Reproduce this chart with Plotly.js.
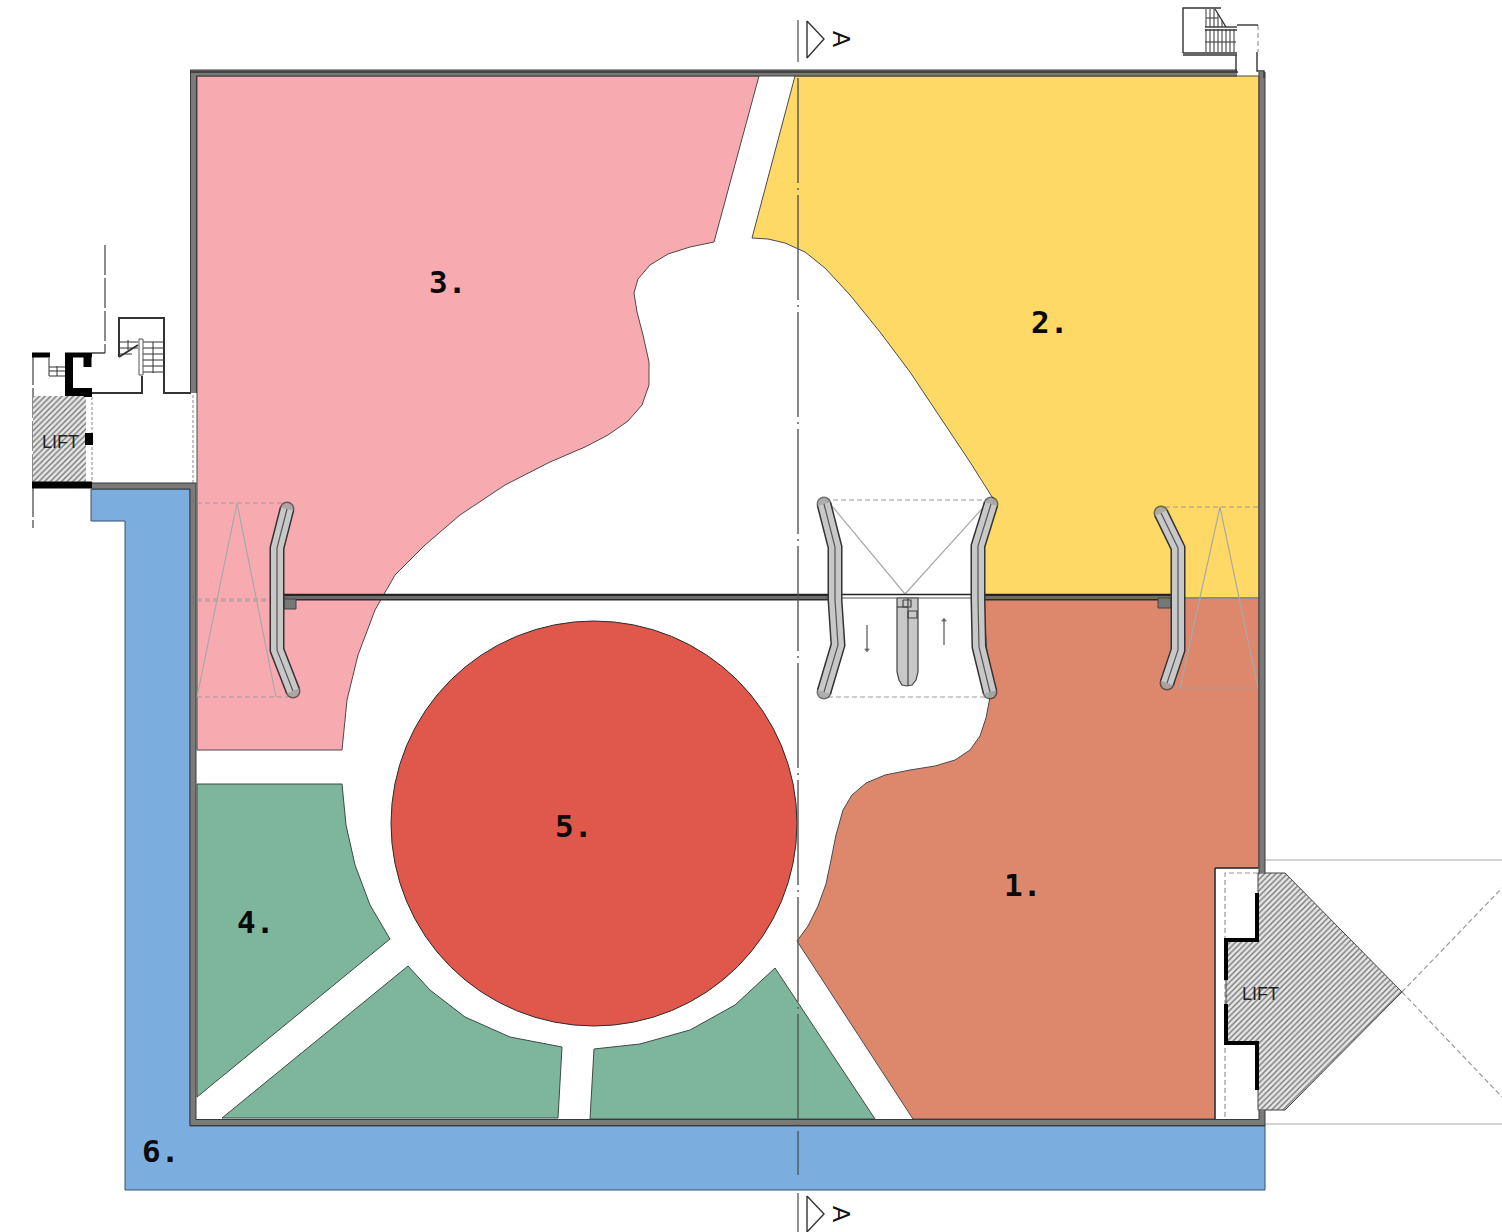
<!DOCTYPE html>
<html><head><meta charset="utf-8">
<script src="https://cdn.plot.ly/plotly-3.0.1.min.js"></script>
<style>html,body{margin:0;padding:0;background:#fff}#plan{width:1502px;height:1232px}</style>
</head><body><div id="plan"></div>
<script>
// Zones read from the plan (x, y in picture pixels)
const zone1 = [[984,598],[1259,598],[1259,868],[1215,868],[1215,1119],[913,1119],[797,941],[808,926],[818,906],[826,884],[831,860],[836,835],[843,810],[852,795],[866,783],[885,775],[910,770],[935,766],[955,760],[970,750],[980,736],[986,718],[990,697],[987,650],[984,610]];
const zone2 = [[795,76],[1259,76],[1259,598],[984,598],[984,547],[994,500],[970,462],[940,417],[910,372],[880,332],[850,295],[825,268],[805,252],[785,243],[768,239],[752,238]];
const zone3 = [[197,76],[759,76],[714,242],[690,247],[668,254],[650,265],[638,279],[634,293],[637,312],[643,335],[649,362],[649,385],[642,405],[628,421],[608,435],[585,447],[550,462],[505,485],[460,515],[425,545],[395,575],[375,610],[358,655],[347,700],[342,750],[197,750]];
const zone4a = [[197,784],[342,784],[346,825],[355,865],[370,905],[390,939],[197,1097]];
const zone4b = [[222,1118],[408,966],[430,990],[465,1017],[510,1037],[562,1047],[558,1118]];
const zone4c = [[594,1049],[640,1044],[690,1030],[735,1005],[775,968],[875,1119],[590,1119]];
const zone6 = [[91,489],[190,489],[190,1126],[1265,1126],[1265,1190],[125,1190],[125,521],[91,521]];
const zone5Circle = {x0:391, y0:621, x1:797, y1:1026};
const zoneLabels = [["1.",1022,885],["2.",1049,322],["3.",447,282],["4.",255,922],["5.",573,826],["6.",160,1151]];
const liftLabels = [["LIFT",60,442],["LIFT",1260,994]];
const sectionLabels = [["A",842,39],["A",842,1214]];

// Building walls
const wallMain = [[1237,73],[193.5,73],[193.5,393]];
const wallRight = [[1262,72],[1262,873]];
const wallRightLow = [[1262,1110],[1262,1122.5],[193,1122.5],[193,486],[92,486]];
const liftHatchLeft = [[33,396],[86,396],[86,483],[33,483]];
const liftHatchRight = [[1258,873],[1285,873],[1402,992],[1285,1110],[1258,1110],[1258,1043],[1226,1043],[1226,941],[1258,941]];
const liftCorridor = [[1259,873],[1265,873],[1265,1110],[1259,1110]];

// Ramps: centre lines
const rampA = [[287,509],[277,548],[277,650],[293,691]];
const rampB = [[824,504],[835,547],[835,600],[838,645],[824,692]];
const rampC = [[991,504],[978,546],[978,600],[979,647],[990,692]];
const rampD = [[1161,513],[1178,548],[1178,650],[1167,683]];
const divider = [[897,598],[918,598],[918,672],[916,680],[912,685],[907,686],[902,685],[899,680],[897,672]];

// Thin drawn lines
const stairSteps = [
 [[143,342],[163,342]],[[143,348],[163,348]],[[143,354],[163,354]],[[143,360],[163,360]],[[143,366],[163,366]],[[143,372],[163,372]],
 [[119,342],[138,342]],[[119,348],[138,348]],[[119,354],[132,354]],[[128,340],[128,350]],[[153,342],[153,373]],
 [[49,367],[65,367]],[[49,371],[65,371]],[[49,376],[65,376]],[[49,358],[49,376]],[[57,366],[57,376]],
 [[1206,9],[1206,27]],[[1210,9],[1210,27]],[[1214,9],[1214,27]],[[1218,14],[1218,27]],[[1222,20],[1222,27]],[[1206,18],[1218,18]],
 [[1206,29],[1206,52]],[[1210,29],[1210,52]],[[1214,29],[1214,52]],[[1218,29],[1218,52]],[[1222,29],[1222,52]],[[1226,29],[1226,52]],[[1230,29],[1230,52]],[[1234,29],[1234,52]],[[1205,42],[1236,42]]
];
const darkLines = [
 [[119,357],[119,318],[164,318],[164,393],[191,393]],[[119,357],[138,345]],[[92,393],[142,393],[142,376]],
 [[1183,53],[1183,8],[1221,8]],[[1215,9],[1226,27]],[[1183,53],[1237,53]],[[1183,55],[1237,55]],[[1205,27],[1237,27]],[[1205,30],[1237,30]],
 [[1237,25],[1258,25]],[[1257,52],[1257,71],[1264,71],[1264,78]],[[1236,55],[1236,72]],[[105,353],[92,353]],
 [[1215,868],[1215,1119]],[[1215,868],[1258,868]],[[191,72],[1238,72]]
];
const blackBars = [
 [[32,485],[92,485]],[[32,355],[50,355]],[[65,355],[92,355]],[[69,355],[69,392],[92,392]],
 [[87.5,355],[87.5,367]],[[88,390],[88,397]],[[89,433],[89,445]],
 [[1257,893],[1257,940],[1226,940],[1226,980]],[[1226,1004],[1226,1043],[1257,1043],[1257,1090]]
];
const dashLines = [
 [[33,355],[33,528]],[[105,245],[105,353]],
 [[193,395],[193,483]],[[92,397],[92,483]]
];
const viewDashes = [
 [[197,503],[285,503]],[[197,599],[272,599]],[[197,601],[272,601]],[[197,697],[288,697]],
 [[825,500],[990,500]],[[828,697],[990,697]],
 [[1165,507],[1258,507]],[[1170,688],[1258,688]],
 [[1258,873],[1225,873],[1225,1119]],[[1402,992],[1502,888]],[[1402,992],[1502,1097]],[[1258,25],[1258,52]]
];
const viewLines = [
 [[197,697],[237,503],[276,697]],[[827,500],[905,594],[990,500]],[[1180,688],[1220,507],[1258,688]],[[1184,598],[1259,598]],
 [[1265,860],[1502,860]],[[1265,1124],[1502,1124]]
];
const bridgeBandLeft = [[278,597.5],[830,597.5]];
const bridgeBandRight = [[985,597.5],[1172,597.5]];
const bridgeTop = [[278,594.5],[1172,594.5]];
const bridgeLow = [[830,598],[985,598]];
const bridgeBlocks = [[[284,599],[296,599],[296,609],[284,609]],[[1158,598],[1171,598],[1171,608],[1158,608]]];
const dividerDetails = [[[908,598],[908,686]],[[903,600],[911,600],[911,607],[903,607],[903,600]],[[908,611],[917,611],[917,618],[908,618],[908,611]],[[897,607],[908,607]]];
const flowArrows = [[[867,625],[867,650]],[[944,645],[944,620]]];
const axisLine = [[798,78],[798,1175]];
const sectionBars = [[[798,20],[798,62]],[[798,1193],[798,1232]]];
const sectionMarks = [[[807,21],[824,39],[807,58],[807,21]],[[807,1196],[824,1214],[807,1232],[807,1196]]];

const xs = p => p.map(d => d[0]), ys = p => p.map(d => d[1]);
const traces = [];
function poly(p, fill, edge, w, extra) {
  traces.push(Object.assign({type:'scatter', mode:'lines', x:xs(p).concat(p[0][0]), y:ys(p).concat(p[0][1]),
    fill:'toself', fillcolor:fill, line:{color:edge, width:w}, hoverinfo:'skip'}, extra||{}));
}
function line(p, color, w, dash) {
  traces.push({type:'scatter', mode:'lines', x:xs(p), y:ys(p), line:{color:color, width:w, dash:dash||'solid'}, hoverinfo:'skip'});
}
const hatch = {fillpattern:{shape:'/', size:4, solidity:0.35, fgcolor:'#777777', bgcolor:'#e6e6e6'}};

poly(zone3,'#f7abb0','#4a4a4a',1);
poly(zone2,'#fed966','#4a4a4a',1);
poly(zone1,'#dd886d','#4a4a4a',1);
[zone4a,zone4b,zone4c].forEach(z=>poly(z,'#7eb59d','#3c4a44',1));
poly(zone6,'#7baedf','#34506e',1);

viewDashes.forEach(p=>line(p,'#999999',1.2,'5px,3px'));
viewLines.forEach(p=>line(p,'#a8a8a8',1.2));
dashLines.forEach((p,i)=>line(p,i<2?'#666666':'#c4c4c4',i<2?1.5:2,i<2?'30px,3px':'3px,2px'));

poly(liftHatchLeft,'#dddddd','rgba(0,0,0,0)',0,hatch);
poly(liftCorridor,'#cccccc','rgba(0,0,0,0)',0,hatch);
poly(liftHatchRight,'#dddddd','#444444',1,hatch);

[wallMain,wallRight,wallRightLow].forEach(p=>{line(p,'#3a3a3a',7); line(p,'#7a7a7a',5);});
darkLines.forEach((p,i)=>line(p,'#333333',i<3?2:1.4));
stairSteps.forEach(p=>line(p,'#333333',1));
poly([[139,339],[143,339],[143,375],[139,375]],'#ffffff','#555555',1);
blackBars.forEach((p,i)=>line(p,'#000000',i===0?7:(i<3?5:(i<7?8:4))));

line(bridgeBandLeft,'#2b2b2b',6); line(bridgeBandLeft,'#6d6d6d',3);
line(bridgeBandRight,'#2b2b2b',6); line(bridgeBandRight,'#6d6d6d',3);
line(bridgeTop,'#222222',1.6); line(bridgeLow,'#555555',1);
bridgeBlocks.forEach(b=>poly(b,'#777777','#444444',1));

function ramp(p){
  const ends = p.map((d,i)=> (i===0||i===p.length-1));
  [[15,'#333333'],[12,'#c8c8c8']].forEach(s=>{
    traces.push({type:'scatter',mode:'lines+markers',x:xs(p),y:ys(p),line:{color:s[1],width:s[0]},
      marker:{color:s[1],size:ends.map(e=>e?s[0]:0),line:{width:0}},hoverinfo:'skip'});
  });
  line(p,'#555555',1.2);
}
[rampA,rampB,rampC,rampD].forEach(ramp);
poly(divider,'#c8c8c8','#444444',1.2);
dividerDetails.forEach(p=>line(p,'#444444',1.2));
flowArrows.forEach(p=>{
  traces.push({type:'scatter',mode:'lines+markers',x:xs(p),y:ys(p),line:{color:'#555555',width:1.2},
    marker:{symbol:['circle',p[1][1]>p[0][1]?'triangle-down':'triangle-up'],size:[0,4],color:'#333333'},hoverinfo:'skip'});
});

line(axisLine,'#555555',1.4,'105px,5px,2px,5px');
sectionBars.forEach(p=>line(p,'#777777',1.6));
sectionMarks.forEach(p=>line(p,'#333333',1.4));

const ann = [];
const addText = (t,x,y,font,angle)=>ann.push({text:t,x:x,y:y,xref:'x',yref:'y',showarrow:false,xanchor:'center',yanchor:'middle',font:font,textangle:angle||0});
zoneLabels.forEach(l=>addText(l[0],l[1],l[2],{family:'DejaVu Sans Mono',size:31,color:'#0a0a0a',weight:700}));
liftLabels.forEach(l=>addText(l[0],l[1],l[2],{family:'Liberation Sans',size:18,color:'#222222'}));
sectionLabels.forEach(l=>addText(l[0],l[1],l[2],{family:'Liberation Sans',size:24,color:'#111111'},90));

const layout = {
  width:1502,height:1232,margin:{l:0,r:0,t:0,b:0},paper_bgcolor:'#ffffff',plot_bgcolor:'#ffffff',showlegend:false,
  xaxis:{range:[0,1502],visible:false,fixedrange:true},
  yaxis:{range:[1232,0],visible:false,fixedrange:true},
  shapes:[Object.assign({type:'circle',xref:'x',yref:'y',fillcolor:'#e0574c',line:{color:'#2b2b2b',width:1},layer:'below'},zone5Circle)],
  annotations:ann
};
Plotly.newPlot('plan',traces,layout,{staticPlot:true,displayModeBar:false});
</script></body></html>
